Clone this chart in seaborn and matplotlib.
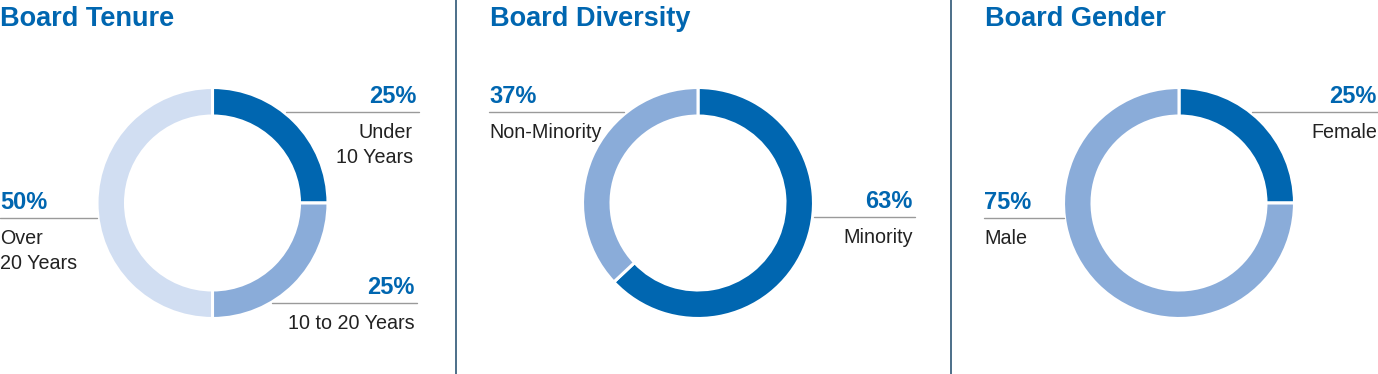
import matplotlib
matplotlib.use("Agg")
import matplotlib.pyplot as plt
import seaborn as sns

# chart data
titles = ["Board Tenure", "Board Diversity", "Board Gender"]

tenure_labels = ["Under\n10 Years", "10 to 20 Years", "Over\n20 Years"]
tenure_values = [25, 25, 50]

diversity_labels = ["Minority", "Non-Minority"]
diversity_values = [63, 37]

gender_labels = ["Female", "Male"]
gender_values = [25, 75]

DARK = "#0066B0"
MID = "#8AACD9"
LIGHT = "#D1DEF2"
TEXT = "#222222"
RULE = "#9A9A9A"

sns.set_theme(style="white")
plt.rcParams["font.family"] = ["Liberation Sans", "DejaVu Sans"]

W, H = 1378, 374
fig = plt.figure(figsize=(W / 100, H / 100), dpi=100)
fig.patch.set_facecolor("white")

R = 114  # donut outer radius in px
CY = 203


def donut(cx, values, colors):
    ax = fig.add_axes([(cx - R) / W, (H - CY - R) / H, 2 * R / W, 2 * R / H])
    ax.pie(values, colors=colors, startangle=90, counterclock=False,
           radius=1.013, wedgeprops=dict(width=0.25, edgecolor="white", linewidth=2.2))
    ax.set_xlim(-1, 1)
    ax.set_ylim(-1, 1)
    ax.set_aspect("equal")
    ax.axis("off")


donut(212.5, tenure_values, [DARK, MID, LIGHT])
donut(698, diversity_values, [DARK, MID])
donut(1179, gender_values, [DARK, MID])

# overlay in pixel coordinates for titles, leaders and labels
ov = fig.add_axes([0, 0, 1, 1])
ov.set_xlim(0, W)
ov.set_ylim(H, 0)
ov.axis("off")
ov.patch.set_alpha(0)

for x, t in zip([0, 490, 985], titles):
    ov.text(x, 26, t, fontsize=19.5, fontweight="bold", color=DARK, ha="left", va="baseline")

for x in [455.5, 950.5]:
    ov.plot([x, x], [0, H], color="#2E5675", lw=1.2)


def callout(value, label, x0, x1, y, side):
    ov.plot([x0, x1], [y, y], color=RULE, lw=1.0)
    if side == "right":
        tx, ha = x1 - 2, "right"
    else:
        tx, ha = x0, "left"
    ov.text(tx, y - 9, f"{value}%", fontsize=17, fontweight="bold", color=DARK,
            ha=ha, va="baseline")
    for i, line in enumerate(label.split("\n")):
        ov.text(tx - (4 if side == "right" and "\n" in label else 0), y + 26 + 25 * i, line,
                fontsize=14.2, color=TEXT, ha=ha, va="baseline")


callout(tenure_values[0], tenure_labels[0], 286, 419, 112, "right")
callout(tenure_values[1], tenure_labels[1], 272, 417, 303, "right")
callout(tenure_values[2], tenure_labels[2], 0, 97, 218, "left")

callout(diversity_values[0], diversity_labels[0], 814, 915, 217, "right")
callout(diversity_values[1], diversity_labels[1], 489, 624, 112, "left")

callout(gender_values[0], gender_labels[0], 1252, 1379, 112, "right")
callout(gender_values[1], gender_labels[1], 984, 1064, 218, "left")

fig.savefig("out.png", dpi=100, facecolor="white")
